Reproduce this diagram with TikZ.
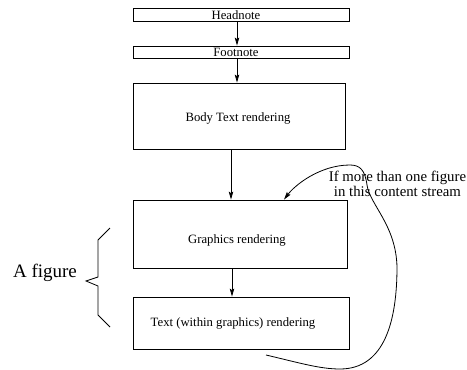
\documentclass[tikz,border=0pt]{standalone}
\usepackage{fontspec}
\setmainfont{Liberation Serif}
\usetikzlibrary{arrows.meta}
\begin{document}
\begin{tikzpicture}[x=1pt,y=-1pt,
  box/.style={draw,line width=0.8pt,inner sep=0pt,anchor=center},
  lbl/.style={font=\fontsize{12.7}{14}\selectfont,inner sep=0pt},
  arr/.style={line width=0.8pt,-{Stealth[length=8pt,width=4.5pt,inset=1.5pt]}}]
\useasboundingbox (0,0) rectangle (467,370);
% boxes
\node[box,minimum width=216pt,minimum height=13pt] (head) at (241,15) {};
\node[box,minimum width=216pt,minimum height=12pt] (foot) at (241,52) {};
\node[box,minimum width=212pt,minimum height=66pt] (body) at (239,116) {};
\node[box,minimum width=214pt,minimum height=68pt] (graph) at (240,234) {};
\node[box,minimum width=216pt,minimum height=52pt] (textb) at (241,323) {};
% texts
\node[lbl] (headt) at (236,15) {Headnote};
\node[lbl] (foott) at (236,52) {Footnote};
\node[lbl] (bodyt) at (238,118) {Body Text rendering};
\node[lbl] (grapht) at (237,240) {Graphics rendering};
\node[lbl] (textbt) at (233,323) {Text (within graphics) rendering};
% arrows
\draw[arr] ([xshift=-4pt]head.south) -- ([xshift=-4pt]foot.north);
\draw[arr] ([xshift=-4pt]foot.south) -- ([xshift=-2pt]body.north);
\draw[arr] ([xshift=-8pt]body.south) -- ([xshift=-9pt]graph.north);
\draw[arr] ([xshift=-8pt]graph.south) -- ([xshift=-9pt]textb.north);
% loop
\coordinate (loopstart) at (266,355);
\draw[arr] (loopstart) .. controls (300,363) and (320,369) .. (340,369)
  .. controls (385,369) and (397,320) .. (397,267)
  .. controls (396,225) and (370,205) .. (367,185)
  .. controls (365,170) and (360,165) .. (350,165)
  .. controls (320,165) and (295,185) .. ([xshift=44pt]graph.north);
\node[font=\fontsize{14.8}{15}\selectfont,align=center,inner sep=0pt] (cond) at (397.5,184)
  {If more than one figure\\in this content stream};
% brace
\draw[line width=0.8pt] (110,228) -- (98,240) -- (98,277) -- (86,281) -- (98,286) -- (98,315) -- (110,327);
\node[font=\fontsize{19}{22}\selectfont,inner sep=0pt] (afig) at (45,273) {A figure};
\end{tikzpicture}
\end{document}
